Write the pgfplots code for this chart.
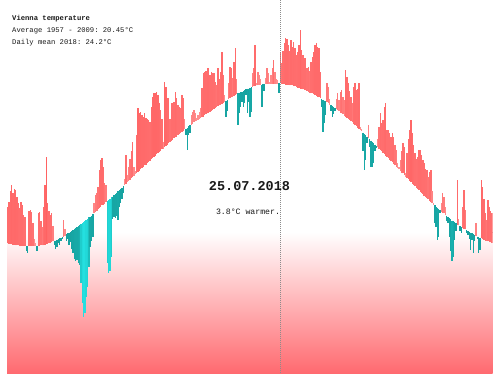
\documentclass[border=0pt]{standalone}
\usepackage{pgfplots}
\usepackage{pgfplotstable}
\pgfplotsset{compat=1.18}
\usepackage{fontspec}
\setmonofont{Liberation Mono}
\definecolor{gradred}{RGB}{255,106,112}
\definecolor{dotgrey}{RGB}{140,140,140}
\pgfplotsset{
  colormap={redmap}{rgb255(0cm)=(255,150,150) rgb255(3cm)=(255,112,112) rgb255(12cm)=(255,96,96)},
  colormap={tealmap}{rgb255(0cm)=(22,160,158) rgb255(4.5cm)=(24,170,168) rgb255(8cm)=(32,212,212) rgb255(12cm)=(36,224,224)},
}
% day, 1957-2009 average (b), 2018 daily mean (t), degrees C
\pgfplotstableread{
d b t
0 0.5 5.0
1 0.4 5.6
2 0.4 7.0
3 0.4 7.8
4 0.3 6.8
5 0.3 7.2
6 0.2 7.1
7 0.2 6.3
8 0.2 5.5
9 0.1 4.9
10 0.1 5.6
11 0.1 5.3
12 0.1 4.0
13 0.1 3.8
14 0.1 -0.5
15 0.1 -0.8
16 0.1 4.5
17 0.1 4.6
18 0.1 4.4
19 0.1 3.0
20 0.1 1.0
21 0.1 0.5
22 0.1 -0.5
23 0.1 4.2
24 0.1 4.4
25 0.2 3.2
26 0.2 2.5
27 0.2 5.0
28 0.3 7.8
29 0.4 11.2
30 0.4 5.5
31 0.5 4.5
32 0.5 4.0
33 0.6 4.2
34 0.7 2.6
35 0.7 0.3
36 0.8 -0.2
37 0.9 0.0
38 1.0 0.5
39 1.1 0.2
40 1.1 0.8
41 1.2 1.0
42 1.3 3.4
43 1.4 2.2
44 1.6 0.8
45 1.7 1.0
46 1.8 0.3
47 1.9 0.6
48 2.0 -0.3
49 2.1 -0.8
50 2.3 -1.5
51 2.4 -1.8
52 2.5 -1.6
53 2.6 -2.0
54 2.7 -2.3
55 2.9 -4.5
56 3.0 -7.0
57 3.1 -8.8
58 3.3 -8.3
59 3.4 -6.3
60 3.5 -5.0
61 3.7 -2.5
62 3.8 0.0
63 3.9 0.8
64 4.1 1.3
65 4.2 5.5
66 4.4 6.5
67 4.5 6.8
68 4.7 7.5
69 4.9 9.6
70 5.0 10.9
71 5.2 11.1
72 5.3 10.0
73 5.4 8.0
74 5.6 7.7
75 5.7 -2.0
76 5.9 -3.2
77 6.0 -3.0
78 6.2 -1.2
79 6.3 3.5
80 6.5 3.8
81 6.6 3.6
82 6.8 3.9
83 7.0 3.4
84 7.1 5.0
85 7.3 5.5
86 7.4 6.0
87 7.6 6.8
88 7.8 8.5
89 7.9 11.5
90 8.1 9.0
91 8.3 10.0
92 8.4 11.0
93 8.6 12.0
94 8.7 13.1
95 8.9 10.0
96 9.1 9.5
97 9.2 14.0
98 9.4 17.4
99 9.5 16.8
100 9.7 16.9
101 9.9 16.5
102 10.0 16.2
103 10.2 16.8
104 10.3 16.1
105 10.5 16.0
106 10.6 15.9
107 10.8 15.6
108 11.0 17.5
109 11.1 18.7
110 11.3 19.2
111 11.4 19.3
112 11.6 19.4
113 11.7 19.0
114 11.9 18.0
115 12.0 17.1
116 12.2 16.0
117 12.3 13.1
118 12.5 20.6
119 12.6 20.0
120 12.8 18.6
121 13.0 18.6
122 13.1 16.0
123 13.3 18.0
124 13.4 18.0
125 13.6 18.1
126 13.7 19.4
127 13.8 18.6
128 14.0 17.8
129 14.1 17.5
130 14.3 17.4
131 14.4 19.0
132 14.5 18.6
133 14.7 16.0
134 14.8 14.0
135 14.9 12.1
136 15.1 14.0
137 15.2 14.2
138 15.3 16.5
139 15.4 16.9
140 15.6 17.1
141 15.7 16.8
142 15.8 16.1
143 15.9 16.5
144 16.0 16.9
145 16.1 17.4
146 16.2 19.9
147 16.3 21.7
148 16.5 21.9
149 16.6 22.0
150 16.7 22.4
151 16.8 22.4
152 16.9 21.5
153 17.0 21.9
154 17.1 21.8
155 17.3 21.7
156 17.4 20.6
157 17.5 20.3
158 17.6 22.4
159 17.7 21.0
160 17.8 21.9
161 17.9 24.4
162 18.0 21.5
163 18.1 19.0
164 18.2 16.3
165 18.4 17.0
166 18.5 20.5
167 18.6 22.5
168 18.7 22.4
169 18.8 21.1
170 18.9 23.1
171 19.0 24.9
172 19.1 21.0
173 19.2 15.3
174 19.3 16.8
175 19.4 17.5
176 19.4 18.1
177 19.5 17.5
178 19.6 18.0
179 19.7 19.0
180 19.8 16.8
181 19.8 18.1
182 19.9 16.3
183 20.0 16.9
184 20.0 21.7
185 20.1 22.4
186 20.1 25.2
187 20.2 20.5
188 20.2 21.9
189 20.3 21.5
190 20.3 21.0
191 20.3 17.5
192 20.4 19.5
193 20.4 19.5
194 20.4 21.1
195 20.4 22.4
196 20.4 21.7
197 20.4 20.6
198 20.4 21.5
199 20.4 22.4
200 20.4 23.4
201 20.4 21.9
202 20.4 21.0
203 20.4 20.9
204 20.5 19.3
205 20.45 24.2
206 20.4 23.0
207 20.4 24.5
208 20.4 25.5
209 20.3 26.1
210 20.3 26.0
211 20.3 25.3
212 20.2 24.5
213 20.2 25.9
214 20.2 25.0
215 20.1 25.6
216 20.1 24.9
217 20.0 24.0
218 19.9 24.4
219 19.9 25.3
220 19.8 27.1
221 19.8 24.6
222 19.7 24.0
223 19.6 23.6
224 19.6 23.6
225 19.5 22.4
226 19.4 22.5
227 19.3 22.0
228 19.2 23.1
229 19.2 23.7
230 19.1 24.4
231 19.0 25.2
232 18.9 25.5
233 18.8 25.0
234 18.7 24.9
235 18.6 21.9
236 18.5 17.5
237 18.4 14.4
238 18.3 15.5
239 18.2 16.5
240 18.1 20.5
241 18.0 20.0
242 17.8 18.5
243 17.7 17.0
244 17.6 16.3
245 17.5 16.6
246 17.4 17.0
247 17.2 18.5
248 17.1 19.2
249 17.0 18.4
250 16.8 19.4
251 16.7 19.6
252 16.6 18.8
253 16.4 18.4
254 16.3 22.1
255 16.1 21.2
256 16.0 20.5
257 15.9 19.5
258 15.7 18.7
259 15.6 18.0
260 15.4 20.0
261 15.2 20.5
262 15.1 19.6
263 14.9 19.8
264 14.8 20.5
265 14.6 15.0
266 14.5 14.8
267 14.3 12.0
268 14.1 9.6
269 14.0 10.9
270 13.8 13.0
271 13.6 15.2
272 13.5 12.5
273 13.3 10.0
274 13.1 10.0
275 13.0 10.5
276 12.8 12.0
277 12.6 12.4
278 12.5 13.5
279 12.3 15.0
280 12.1 16.8
281 12.0 15.5
282 11.8 15.9
283 11.6 17.5
284 11.4 18.0
285 11.3 14.6
286 11.1 14.6
287 10.9 14.2
288 10.7 13.7
289 10.6 14.2
290 10.4 13.7
291 10.2 12.8
292 10.0 12.1
293 9.9 10.5
294 9.7 10.0
295 9.5 10.9
296 9.3 12.0
297 9.2 13.0
298 9.0 12.5
299 8.8 9.2
300 8.6 11.7
301 8.5 13.5
302 8.3 14.6
303 8.1 15.9
304 7.9 14.2
305 7.8 12.8
306 7.6 11.8
307 7.4 11.0
308 7.3 11.2
309 7.1 12.1
310 6.9 12.1
311 6.8 11.5
312 6.6 10.9
313 6.4 10.5
314 6.3 9.8
315 6.1 9.6
316 6.0 8.7
317 5.8 9.4
318 5.6 9.6
319 5.5 7.0
320 5.3 5.5
321 5.2 3.0
322 5.0 2.5
323 4.9 0.9
324 4.7 1.3
325 4.6 4.3
326 4.4 5.5
327 4.3 6.7
328 4.2 6.2
329 4.0 5.0
330 3.9 3.2
331 3.7 3.0
332 3.6 1.3
333 3.5 -0.5
334 3.3 -1.7
335 3.2 -1.3
336 3.1 0.9
337 3.0 2.0
338 2.8 8.4
339 2.7 3.5
340 2.6 2.0
341 2.5 1.7
342 2.4 5.0
343 2.3 7.1
344 2.2 4.6
345 2.1 1.8
346 2.0 1.5
347 1.9 1.0
348 1.8 -0.4
349 1.7 0.9
350 1.6 -0.7
351 1.5 0.8
352 1.4 3.0
353 1.3 1.0
354 1.2 -0.7
355 1.1 -0.4
356 1.1 8.4
357 1.0 7.5
358 0.9 6.0
359 0.8 4.2
360 0.8 3.4
361 0.7 5.9
362 0.6 5.0
363 0.6 4.5
364 0.5 4.2
}\data
\begin{document}
\begin{tikzpicture}
\useasboundingbox (0,0) rectangle (500pt,381pt);
\begin{axis}[
  at={(7pt,8pt)}, anchor=south west,
  scale only axis, width=485.7pt, height=373pt,
  xmin=0, xmax=365, ymin=-15.75, ymax=30.875,
  hide axis, clip=true,
  point meta min=0, point meta max=12,
]
\fill[top color=white, bottom color=gradred] (axis cs:0,1.875) rectangle (axis cs:365,-15.75);
\addplot[-, line width=1.36pt, colormap name=redmap,
  point meta={abs(\thisrow{t}-\thisrow{b})},
  quiver={u=0, v={max(\thisrow{t}-\thisrow{b},0)}, colored=mapped color}]
  table[x expr=\thisrow{d}+0.5, y=b] {\data};
\addplot[-, line width=1.36pt, colormap name=tealmap,
  point meta={abs(\thisrow{t}-\thisrow{b})},
  quiver={u=0, v={min(\thisrow{t}-\thisrow{b},0)}, colored=mapped color}]
  table[x expr=\thisrow{d}+0.5, y=b] {\data};
\addplot[dotgrey, line width=0.8pt, dash pattern=on 1pt off 1pt] coordinates {(205.5,-15.75) (205.5,30.875)};
\end{axis}
\node[anchor=west, inner sep=0pt, text=black!90, font=\ttfamily\bfseries\fontsize{7.2}{8}\selectfont] at (12pt,362pt) {Vienna temperature};
\node[anchor=west, inner sep=0pt, text=black!90, font=\ttfamily\fontsize{7.2}{8}\selectfont] at (12pt,350pt) {Average 1957 - 2009: 20.45°C};
\node[anchor=west, inner sep=0pt, text=black!90, font=\ttfamily\fontsize{7.2}{8}\selectfont] at (12pt,338pt) {Daily mean 2018: 24.2°C};
\node[inner sep=0pt, text=black!90, font=\ttfamily\bfseries\fontsize{13.5}{15}\selectfont] at (249.5pt,195pt) {25.07.2018};
\node[inner sep=0pt, text=black!90, font=\ttfamily\fontsize{8.2}{10}\selectfont] at (248pt,169.5pt) {3.8°C warmer.};
\end{tikzpicture}
\end{document}
